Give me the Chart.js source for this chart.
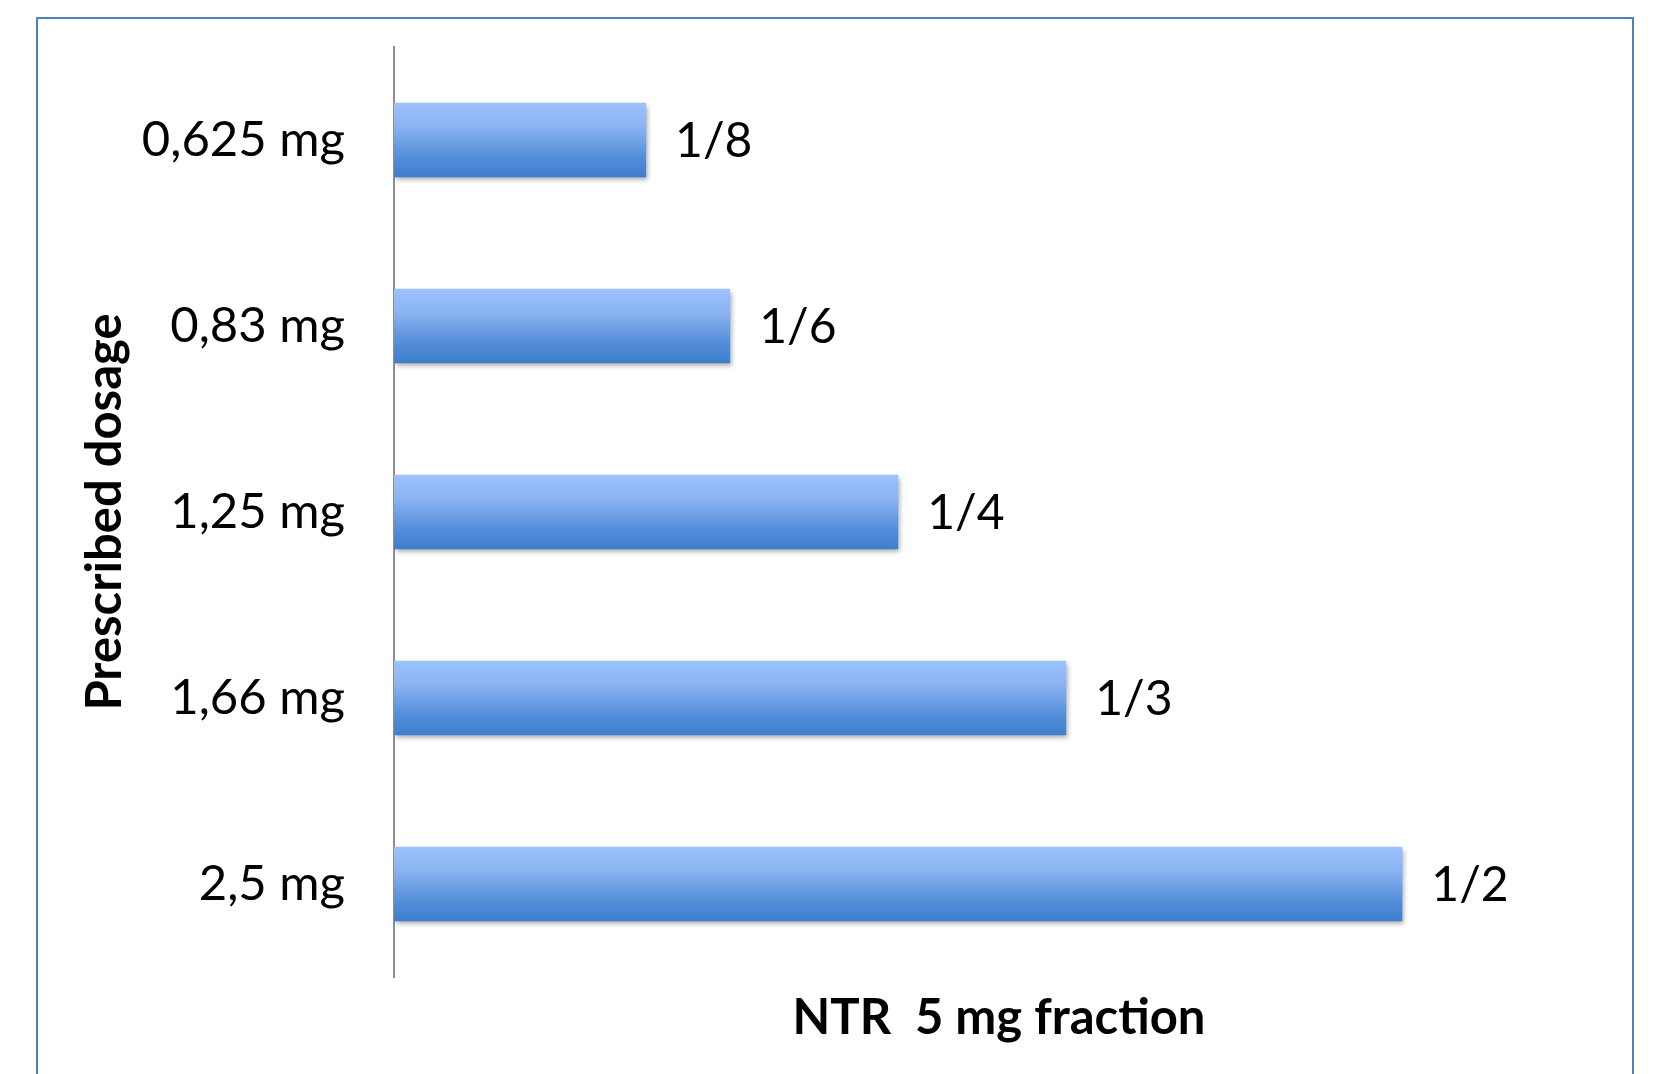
<!DOCTYPE html>
<html>
<head>
<meta charset="utf-8">
<script src="https://cdn.jsdelivr.net/npm/chart.js@4.4.1/dist/chart.umd.min.js"></script>
<style>
  html, body { margin: 0; padding: 0; background: #fff; overflow: hidden; }
  #frame { position: absolute; left: 36px; top: 17px; width: 1594px; height: 1200px; border: 2px solid #4f81bd; }
  #wrap { position: absolute; left: 0; top: 0; width: 1666px; height: 1074px; }
</style>
</head>
<body>
<div id="frame"></div>
<div id="wrap"><canvas id="chart1"></canvas></div>
<script>
// dosages and the share of a 5 mg tablet they need
const dosages = ['0,625 mg', '0,83 mg', '1,25 mg', '1,66 mg', '2,5 mg'];
const fractions = [0.125, 0.1667, 0.25, 0.3333, 0.5];
const fractionLabels = ['1/8', '1/6', '1/4', '1/3', '1/2'];

const barTop = 'rgb(156,194,252)';
const barBottom = 'rgb(62,126,205)';
const barPct = 0.4;

Chart.defaults.font.family = 'Lato, "Open Sans", sans-serif';
Chart.defaults.color = '#000';

function barGradient(context) {
    const chart = context.chart;
    const y = chart.scales.y;
    if (!chart.chartArea || !y || context.dataIndex === undefined) return barBottom;
    const center = y.getPixelForValue(context.dataIndex);
    const half = y.height / dosages.length * barPct / 2;
    const g = chart.ctx.createLinearGradient(0, center - half, 0, center + half);
    g.addColorStop(0, barTop);
    g.addColorStop(0.3, 'rgb(140,181,243)');
    g.addColorStop(0.75, 'rgb(82,140,216)');
    g.addColorStop(1, barBottom);
    return g;
}

// soft drop shadow under the bars
const barShadow = {
    id: 'barShadow',
    beforeDatasetsDraw(chart) {
        const c = chart.ctx;
        c.save();
        c.shadowColor = 'rgba(0,0,0,0.35)';
        c.shadowBlur = 5;
        c.shadowOffsetX = 2;
        c.shadowOffsetY = 3;
    },
    afterDatasetsDraw(chart) {
        chart.ctx.restore();
    }
};

// fraction text to the right of each bar
const fractionText = {
    id: 'fractionText',
    afterDatasetsDraw(chart) {
        const c = chart.ctx;
        const meta = chart.getDatasetMeta(0);
        c.save();
        c.font = '48px Lato, "Open Sans", sans-serif';
        c.fillStyle = '#000';
        c.textAlign = 'left';
        c.textBaseline = 'middle';
        meta.data.forEach((bar, i) => {
            c.fillText(fractionLabels[i], bar.x + 29, bar.y + 2);
        });
        c.restore();
    }
};

const data = {
    labels: dosages,
    datasets: [{
        data: fractions,
        backgroundColor: barGradient,
        borderWidth: 0,
        barPercentage: barPct,
        categoryPercentage: 1
    }]
};

const options = {
    indexAxis: 'y',
    responsive: false,
    animation: false,
    layout: { padding: { top: 47, right: 62, bottom: 0, left: 0 } },
    plugins: {
        legend: { display: false },
        tooltip: { enabled: false }
    },
    scales: {
        x: {
            min: 0,
            max: 0.6,
            grid: { display: false, drawTicks: false },
            border: { display: false },
            ticks: { display: false },
            title: {
                display: true,
                text: 'NTR  5 mg fraction',
                font: { size: 49, weight: 'bold' },
                padding: { top: 0, bottom: 26 }
            },
            afterFit(scale) { scale.height = 97; }
        },
        y: {
            grid: { display: false, drawTicks: false },
            border: { display: true, color: '#8e8e8e', width: 2 },
            ticks: { font: { size: 49 }, padding: 49 },
            title: {
                display: true,
                text: 'Prescribed dosage',
                font: { size: 49, weight: 'bold' },
                padding: { top: 76, bottom: 0 }
            },
            afterFit(scale) {
                scale.width = 394;
                scale.paddingTop = 0;
                scale.paddingBottom = 0;
            }
        }
    }
};

const canvas = document.getElementById('chart1');
canvas.width = 1666;
canvas.height = 1074;
new Chart('chart1', { type: 'bar', data, options, plugins: [barShadow, fractionText] });
</script>
</body>
</html>
